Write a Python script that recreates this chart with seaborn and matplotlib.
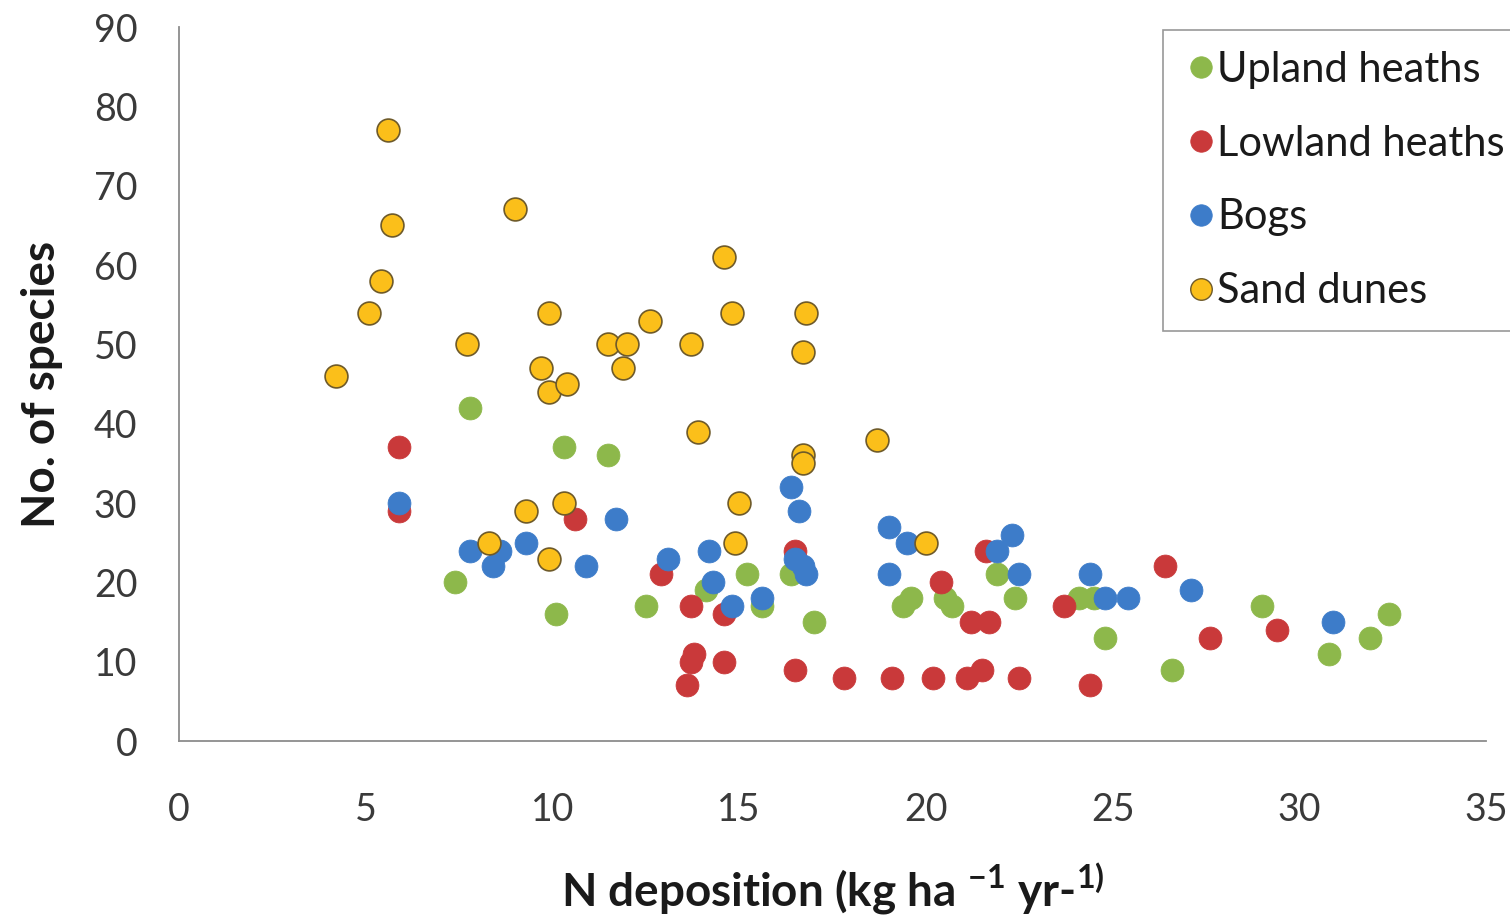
import matplotlib
matplotlib.use("Agg")
import matplotlib.pyplot as plt
from matplotlib.lines import Line2D
import seaborn as sns
import pandas as pd

# ---- data ----
categories = ["Upland heaths", "Lowland heaths", "Bogs", "Sand dunes"]

upland_x = [7.4, 7.8, 10.1, 10.3, 11.5, 12.5, 14.1, 15.2, 15.6, 16.4, 17.0, 19.4, 19.6,
            20.5, 20.7, 21.9, 22.4, 24.1, 24.5, 24.8, 26.6, 29.0, 30.8, 31.9, 32.4]
upland_y = [20, 42, 16, 37, 36, 17, 19, 21, 17, 21, 15, 17, 18,
            18, 17, 21, 18, 18, 18, 13, 9, 17, 11, 13, 16]

lowland_x = [5.9, 5.9, 10.6, 12.9, 13.7, 13.6, 13.7, 13.8, 14.6, 14.6, 16.5, 16.5, 17.8,
             19.1, 20.2, 20.4, 21.1, 21.2, 21.5, 21.7, 21.6, 22.5, 23.7, 24.4, 26.4, 27.6, 29.4]
lowland_y = [37, 29, 28, 21, 17, 7, 10, 11, 10, 16, 9, 24, 8,
             8, 8, 20, 8, 15, 9, 15, 24, 8, 17, 7, 22, 13, 14]

bogs_x = [5.9, 7.8, 8.4, 8.6, 9.3, 10.9, 11.7, 13.1, 14.2, 14.3, 14.8, 15.6, 16.4, 16.6,
          16.5, 16.7, 16.8, 19.0, 19.5, 19.0, 22.3, 21.9, 22.5, 24.4, 24.8, 25.4, 27.1, 30.9]
bogs_y = [30, 24, 22, 24, 25, 22, 28, 23, 24, 20, 17, 18, 32, 29,
          23, 22, 21, 27, 25, 21, 26, 24, 21, 21, 18, 18, 19, 15]

dunes_x = [4.2, 5.1, 5.4, 5.6, 5.7, 7.7, 8.3, 9.0, 9.3, 9.7, 9.9, 9.9, 9.9, 10.3, 10.4,
           11.5, 12.0, 11.9, 12.6, 13.7, 13.9, 14.6, 14.8, 15.0, 14.9, 16.7, 16.8, 16.7,
           16.7, 18.7, 20.0]
dunes_y = [46, 54, 58, 77, 65, 50, 25, 67, 29, 47, 54, 44, 23, 30, 45,
           50, 50, 47, 53, 50, 39, 61, 54, 30, 25, 49, 54, 36,
           35, 38, 25]

x_ticks = [0, 5, 10, 15, 20, 25, 30, 35]
y_ticks = [0, 10, 20, 30, 40, 50, 60, 70, 80, 90]

colors = {"Upland heaths": "#8db84b", "Lowland heaths": "#c9393a",
          "Bogs": "#3d7cc9", "Sand dunes": "#fbbf1a"}
edges = {"Upland heaths": "#8db84b", "Lowland heaths": "#c9393a",
         "Bogs": "#3d7cc9", "Sand dunes": "#6e5a2a"}

series = {
    "Upland heaths": (upland_x, upland_y),
    "Lowland heaths": (lowland_x, lowland_y),
    "Bogs": (bogs_x, bogs_y),
    "Sand dunes": (dunes_x, dunes_y),
}

sns.set_style("white")
FONT = "Lato"
plt.rcParams["font.family"] = [FONT, "DejaVu Sans"]
plt.rcParams["mathtext.fontset"] = "custom"
plt.rcParams["mathtext.rm"] = FONT
plt.rcParams["mathtext.bf"] = FONT + ":bold"

fig = plt.figure(figsize=(15.1, 9.22), dpi=100)
ax = fig.add_axes([179 / 1510, 1 - 741 / 922, (1486 - 179) / 1510, (741 - 27) / 922])

for cat in categories:
    xs, ys = series[cat]
    df = pd.DataFrame({"x": xs, "y": ys})
    sns.scatterplot(data=df, x="x", y="y", ax=ax, s=270, color=colors[cat],
                    edgecolor=edges[cat], linewidth=1.2 if cat == "Sand dunes" else 0.6,
                    legend=False, zorder=3)

ax.set_xlim(0, 35)
ax.set_ylim(0, 90)
ax.set_xticks(x_ticks)
ax.set_yticks(y_ticks)
ax.tick_params(axis="both", labelsize=27, length=12, width=1.2, direction="out",
               colors="#8c8c8c", labelcolor="#3a3a3a")
ax.tick_params(axis="y", pad=18)
ax.tick_params(axis="x", pad=25)
for sp in ["top", "right"]:
    ax.spines[sp].set_visible(False)
for sp in ["left", "bottom"]:
    ax.spines[sp].set_color("#8c8c8c")
    ax.spines[sp].set_linewidth(1.3)

ax.set_ylabel("No. of species", fontsize=33, fontweight="bold", color="#1a1a1a", labelpad=22)
ax.set_xlabel(r"N deposition (kg ha $^{\mathbf{-1}}$ yr-$^{\mathbf{1)}}$", fontsize=33,
              fontweight="bold", color="#1a1a1a", labelpad=24)

handles = [Line2D([0], [0], marker="o", linestyle="none", markersize=15.5,
                  markerfacecolor=colors[c], markeredgecolor=edges[c],
                  markeredgewidth=1.0 if c == "Sand dunes" else 0.5, label=c)
           for c in categories]
top = 1 - 30 / 922
leg = fig.legend(handles=handles, loc="upper left",
                 bbox_to_anchor=(1163 / 1510, top - 0.3, (1540 - 1163) / 1510, 0.3),
                 mode="expand", fontsize=30,
                 frameon=True, fancybox=False, edgecolor="#7f7f7f",
                 handletextpad=0.0, handlelength=0.8, labelspacing=0.86,
                 borderpad=0.5, borderaxespad=0)
leg.get_frame().set_linewidth(1.2)
for t in leg.get_texts():
    t.set_color("#1a1a1a")

fig.savefig("out.png", dpi=100)
